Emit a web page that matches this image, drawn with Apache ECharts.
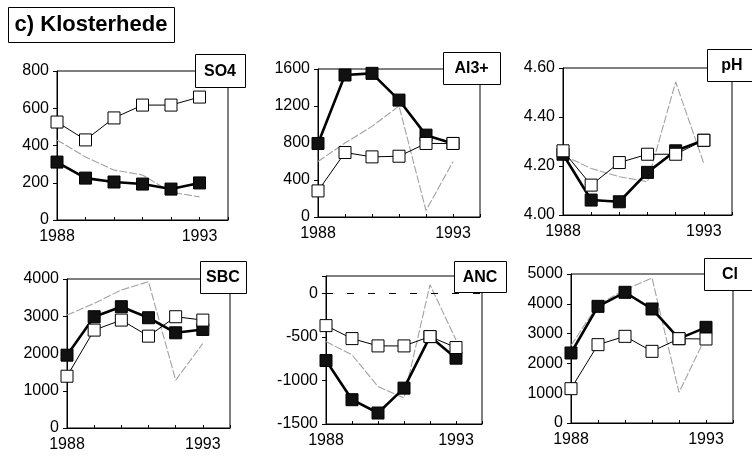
<!DOCTYPE html>
<html>
<head>
<meta charset="utf-8">
<script src="https://cdn.jsdelivr.net/npm/echarts@6/dist/echarts.min.js"></script>
<style>
  html, body { margin: 0; padding: 0; background: #fff; }
  #chart { width: 752px; height: 458px; }
</style>
</head>
<body>
<div id="chart"></div>
<script>
// Klosterhede soil-water chemistry, 1988-1993
var years = [1988, 1989, 1990, 1991, 1992, 1993];
var yearLabels = ['1988', '1993'];

// filled squares (thick line), open squares (thin line), grey trace
var so4Filled = [311, 225, 204, 193, 166, 199];
var so4Open   = [526, 430, 548, 617, 617, 660];
var so4Grey   = [430, 338, 268, 242, 150, 124];

var alFilled = [795, 1535, 1553, 1264, 885, 795];
var alOpen   = [282, 697, 650, 657, 795, 795];
var alGrey   = [600, 800, 980, 1200, 70, 600];

var phFilled = [4.248, 4.061, 4.054, 4.174, 4.262, 4.305];
var phOpen   = [4.262, 4.122, 4.214, 4.248, 4.248, 4.305];
var phGrey   = [4.244, 4.19, 4.156, 4.136, 4.543, 4.21];

var sbcFilled = [1955, 2987, 3256, 2960, 2556, 2646];
var sbcOpen   = [1390, 2628, 2897, 2466, 2987, 2897];
var sbcGrey   = [3031, 3345, 3704, 3928, 1283, 2269];

var ancFilled = [-771, -1221, -1374, -1088, -496, -744];
var ancOpen   = [-370, -519, -603, -603, -496, -622];
var ancGrey   = [-553, -706, -1069, -1200, 100, -534];

var clFilled = [2349, 3915, 4385, 3826, 2830, 3210];
var clOpen   = [1152, 2629, 2908, 2405, 2830, 2819];
var clGrey   = [2600, 3970, 4474, 4866, 1029, 2908];

var FONT = 'Liberation Sans, Arial, Helvetica, sans-serif';

var panels = [
  { name: 'SO4',  f: so4Filled, o: so4Open, g: so4Grey, min: 0, max: 800, step: 200,
    grid: { left: 57, top: 71, width: 171, height: 149 }, box: [195, 54, 50, 33] },
  { name: 'Al3+', f: alFilled, o: alOpen, g: alGrey, min: 0, max: 1600, step: 400,
    grid: { left: 318, top: 69, width: 162, height: 148 }, box: [443, 52, 57, 32] },
  { name: 'pH',   f: phFilled, o: phOpen, g: phGrey, min: 4.0, max: 4.6, step: 0.2, dec: 2,
    grid: { left: 563, top: 68, width: 169, height: 147 }, box: [707, 49, 50, 32] },
  { name: 'SBC',  f: sbcFilled, o: sbcOpen, g: sbcGrey, min: 0, max: 4000, step: 1000,
    grid: { left: 67, top: 279, width: 163, height: 149 }, box: [200, 261, 46, 32] },
  { name: 'ANC',  f: ancFilled, o: ancOpen, g: ancGrey, min: -1500, max: 200, step: 500, zero: true,
    grid: { left: 326, top: 276, width: 156, height: 148 }, box: [454, 261, 52, 31] },
  { name: 'Cl',   f: clFilled, o: clOpen, g: clGrey, min: 0, max: 5000, step: 1000,
    grid: { left: 571, top: 274, width: 162, height: 149 }, box: [704, 258, 52, 32] }
];

function pairs(vals) {
  return years.map(function (y, i) { return [y, vals[i]]; });
}

var grids = [], xAxes = [], yAxes = [], series = [], graphics = [];

graphics.push({
  type: 'rect', shape: { x: 8.5, y: 7.5, width: 166, height: 35 },
  style: { fill: '#fff', stroke: '#000', lineWidth: 1 }, z: 100
});
graphics.push({
  type: 'text', x: 91, y: 25, z: 101,
  style: { text: 'c) Klosterhede', font: 'bold 22px ' + FONT, fill: '#000',
           textAlign: 'center', textVerticalAlign: 'middle' }
});

panels.forEach(function (p, i) {
  grids.push({
    left: p.grid.left, top: p.grid.top, width: p.grid.width, height: p.grid.height,
    show: true, borderColor: '#000', borderWidth: 1, backgroundColor: 'transparent'
  });
  xAxes.push({
    type: 'value', gridIndex: i, min: 1988, max: 1994, interval: 1,
    axisLine: { onZero: false, lineStyle: { color: '#000', width: 1 } },
    axisTick: { inside: true, length: 3, lineStyle: { color: '#000' } },
    splitLine: { show: false },
    axisLabel: {
      color: '#000', fontFamily: FONT, fontSize: 16, margin: 9,
      formatter: function (v) { var s = String(v); return yearLabels.indexOf(s) >= 0 ? s : ''; }
    }
  });
  yAxes.push({
    type: 'value', gridIndex: i, min: p.min, max: p.max, interval: p.step,
    axisLine: { lineStyle: { color: '#000', width: 1 } },
    axisTick: { length: 4, lineStyle: { color: '#000' } },
    splitLine: { show: false },
    axisLabel: {
      color: '#000', fontFamily: FONT, fontSize: 16, margin: 8,
      formatter: function (v) {
        if (v > 0 && p.zero) return '';
        return p.dec ? v.toFixed(p.dec) : String(v);
      }
    }
  });
  series.push({
    type: 'line', xAxisIndex: i, yAxisIndex: i, data: pairs(p.g),
    showSymbol: false, symbol: 'none', silent: true, z: 1,
    lineStyle: { color: '#a2a2a2', width: 1.1, type: [8, 2] },
    markLine: p.zero ? {
      silent: true, symbol: 'none', label: { show: false },
      lineStyle: { color: '#000', type: [7, 14], width: 1 },
      data: [{ yAxis: 0 }]
    } : undefined
  });
  series.push({
    type: 'line', xAxisIndex: i, yAxisIndex: i, data: pairs(p.f),
    symbol: 'rect', symbolSize: 12, silent: true, z: 2,
    lineStyle: { color: '#000', width: 2.6 },
    itemStyle: { color: '#111', borderColor: '#000', borderWidth: 1 }
  });
  series.push({
    type: 'line', xAxisIndex: i, yAxisIndex: i, data: pairs(p.o),
    symbol: 'rect', symbolSize: 12, silent: true, z: 3,
    lineStyle: { color: '#000', width: 1 },
    itemStyle: { color: '#fff', borderColor: '#000', borderWidth: 1 }
  });
  graphics.push({
    type: 'rect', shape: { x: p.box[0] + 0.5, y: p.box[1] + 0.5, width: p.box[2], height: p.box[3] },
    style: { fill: '#fff', stroke: '#000', lineWidth: 1 }, z: 100
  });
  graphics.push({
    type: 'text', x: p.box[0] + p.box[2] / 2, y: p.box[1] + p.box[3] / 2 + 1, z: 101,
    style: { text: p.name, font: 'bold 16px ' + FONT, fill: '#000',
             textAlign: 'center', textVerticalAlign: 'middle' }
  });
});

var chart = echarts.init(document.getElementById('chart'), null, { renderer: 'canvas' });
chart.setOption({
  animation: false,
  backgroundColor: '#fff',
  grid: grids,
  xAxis: xAxes,
  yAxis: yAxes,
  series: series,
  graphic: graphics
});
</script>
</body>
</html>
